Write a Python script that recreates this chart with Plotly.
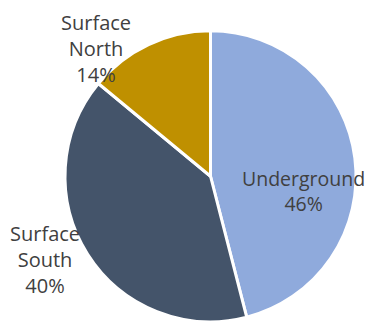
import plotly.graph_objects as go

# Share of workforce by work area
areas = ["Underground", "Surface South", "Surface North"]
shares = [46, 40, 14]
colors = ["#8FAADC", "#44546A", "#BF9000"]

# Label placement (paper coordinates), display text and size per slice
label_text = ["Underground", "Surface<br>South", "Surface<br>North"]
label_x = [303.5 / 366, 45 / 366, 96 / 366]
label_y = [1 - 191 / 331, 1 - 259 / 331, 1 - 49 / 331]
label_size = [19.5, 20, 20]

fig = go.Figure(
    go.Pie(
        labels=areas,
        values=shares,
        sort=False,
        direction="clockwise",
        rotation=0,
        marker=dict(colors=colors, line=dict(color="white", width=3)),
        textinfo="none",
        hoverinfo="label+percent",
        domain=dict(x=[65 / 366, 356 / 366], y=[9 / 331, 300.5 / 331]),
        showlegend=False,
    )
)

total = sum(shares)
for txt, v, x, y, s in zip(label_text, shares, label_x, label_y, label_size):
    fig.add_annotation(
        x=x, y=y, xref="paper", yref="paper",
        xanchor="center", yanchor="middle",
        text=f"{txt}<br>{round(100 * v / total)}%",
        showarrow=False,
        align="center",
        font=dict(family="Open Sans", size=s, color="#404040"),
    )

fig.update_layout(
    width=366, height=331,
    margin=dict(l=0, r=0, t=0, b=0),
    paper_bgcolor="white",
    plot_bgcolor="white",
)

fig.write_html("out.html")
